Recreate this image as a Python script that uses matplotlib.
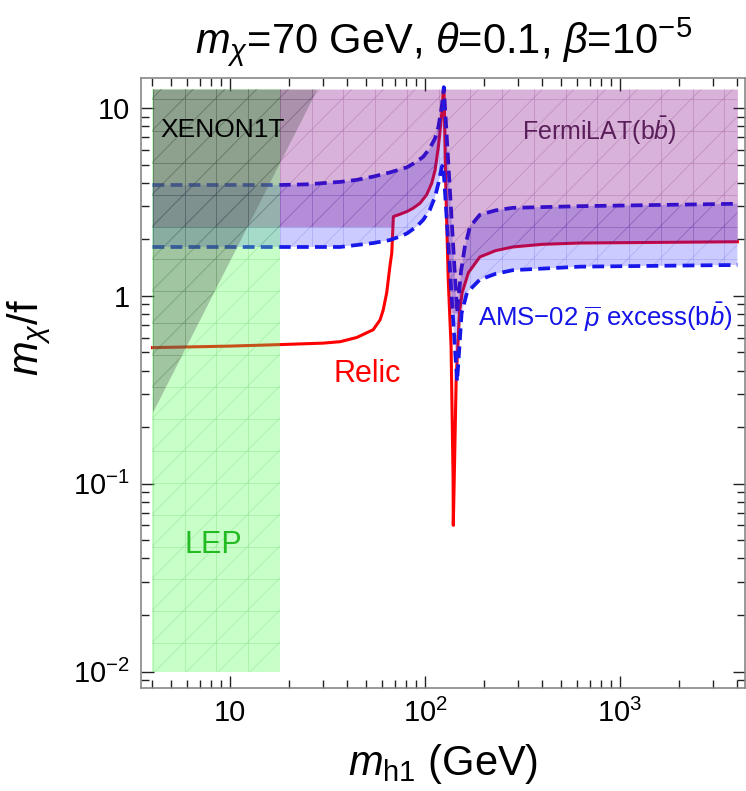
import numpy as np
import matplotlib

matplotlib.use("Agg")
import matplotlib.pyplot as plt
from matplotlib.collections import LineCollection
from matplotlib.ticker import LogLocator, FixedLocator, NullFormatter

plt.rcParams["font.family"] = ["Liberation Sans", "DejaVu Sans"]
plt.rcParams["mathtext.fontset"] = "custom"
plt.rcParams["mathtext.rm"] = "Liberation Sans"
plt.rcParams["mathtext.it"] = "Liberation Sans:italic"
plt.rcParams["mathtext.bf"] = "Liberation Sans:bold"
plt.rcParams["lines.scale_dashes"] = False

# relic density curve
relic_x = [4, 10, 18, 30, 36.7, 44.6, 54.2, 58.8, 61, 63.6, 66, 67.5, 68.8, 74.5,
           80.8, 87, 94.2, 101.9, 108.2, 112.6, 117.1, 119.5, 121.9, 124,
           125, 127.5, 131.5, 136, 139.3, 139.6, 141.5, 144.4, 150, 155, 167,
           191, 230, 282, 400, 623, 4000]
relic_y = [0.53, 0.54, 0.55, 0.56, 0.57, 0.60, 0.66, 0.745, 0.84, 1.04, 1.43,
           1.69, 2.64, 2.72, 2.81, 2.93, 3.11, 3.45, 3.97, 4.67, 6.23, 7.6, 9.38,
           12.0, 12.6, 4.14, 1.22, 0.535, 0.105, 0.06, 0.12, 0.357, 0.81, 1.04,
           1.33, 1.61, 1.74, 1.82, 1.88, 1.91, 1.94]

# AMS-02 antiproton excess band (upper / lower edge)
ams_up_x = [4, 18, 24.7, 36.7, 44.6, 54.2, 65.8, 80.8, 90.6, 97.9, 105.8, 112.6,
            117.1, 121.9, 124.8, 138, 146, 153, 160, 170, 191, 230, 282, 623,
            4000]
ams_up_y = [3.89, 3.89, 3.92, 4.04, 4.14, 4.31, 4.53, 4.83, 5.18, 5.5, 6.1, 6.9,
            7.93, 10.2, 12.9, 2.2, 0.81, 1.35, 1.82, 2.33, 2.7, 2.85, 2.94, 3.0,
            3.09]
ams_lo_x = [4, 36.7, 54.2, 65.8, 74.5, 80.8, 90.6, 97.9, 105.8, 112.6, 117.1,
            121.9, 124, 146, 154, 164, 191, 230, 282, 623, 4000]
ams_lo_y = [1.82, 1.82, 1.91, 1.98, 2.07, 2.15, 2.34, 2.54, 2.87, 3.38, 3.97,
            4.87, 5.0, 0.35, 0.81, 1.04, 1.22, 1.31, 1.37, 1.43, 1.46]

# FermiLAT exclusion: lower boundary, excluded up to the plot top
fermi_x = [4, 68.8, 68.8, 74.5, 80.8, 87, 94.2, 101.9, 108.2, 112.6, 117.1,
           119.5, 121.9, 124, 125, 127.5, 131.5, 133, 150, 155, 167, 191, 230,
           282, 400, 623, 4000]
fermi_y = [2.33, 2.33, 2.64, 2.72, 2.81, 2.93, 3.11, 3.45, 3.97, 4.67, 6.23, 7.6,
           9.38, 12.0, 12.6, 4.14, 1.22, 0.81, 0.81, 1.04, 1.33, 1.61, 1.74,
           1.82, 1.88, 1.91, 1.94]

# XENON1T exclusion boundary (excluded above/left)
xenon_x = [4, 27.9]
xenon_y = [0.24, 12.6]

# LEP exclusion
lep_x = [4, 18]
lep_y = [0.01, 12.6]

y_top = 12.6


def mesh(ax, region, color):
    """faint triangle mesh seen inside the shaded regions"""
    if hasattr(region, "get_paths"):
        path, tr = region.get_paths()[0], region.get_transform()
    else:
        path, tr = region.get_path(), region.get_transform()
    s = 0.0525
    segs = [[(u, 0), (u, 1)] for u in np.arange(0.02, 1, s)]
    segs += [[(0, v), (1, v)] for v in np.arange(0.02, 1, s)]
    segs += [[(u, 0), (u + 1, 1)] for u in np.arange(-1, 1, s)]
    lc = LineCollection(segs, colors=color, linewidths=0.6, alpha=0.18,
                        transform=ax.transAxes, zorder=4)
    lc.set_clip_path(path, tr)
    ax.add_collection(lc)


fig = plt.figure(figsize=(7.46, 7.91), dpi=100)
ax = fig.add_axes([0.1886, 0.1308, 0.8107, 0.7706])

ax.plot(relic_x, relic_y, color="#ff0000", lw=2.2, zorder=2)
for xs, ys in [(ams_up_x, ams_up_y), (ams_lo_x, ams_lo_y)]:
    ax.plot(xs, ys, color="#1414e8", lw=2.7, dashes=(8.5, 4.5), zorder=2)

# shaded regions drawn over the curves, as in the original
ams = ax.fill(np.r_[ams_up_x, ams_lo_x[::-1]], np.r_[ams_up_y, ams_lo_y[::-1]],
              color="#3333ff", alpha=0.25, lw=0, zorder=3)[0]
fermi = ax.fill_between(fermi_x, fermi_y, y_top, color="#800080", alpha=0.3,
                        lw=0, zorder=3)
lep = ax.fill_between(lep_x, lep_y[0], lep_y[1], color="#55ff55", alpha=0.32,
                      lw=0, zorder=3)
xenon = ax.fill_between(xenon_x, xenon_y, y_top, color="#505050", alpha=0.33,
                        lw=0, zorder=3)
mesh(ax, ams, "#3333cc")
mesh(ax, fermi, "#600060")
mesh(ax, lep, "#22aa22")
mesh(ax, xenon, "#303030")

ax.text(4.38, 7.6, "XENON1T", fontsize=19, color="black", va="center", zorder=5)
ax.text(314, 7.6, r"FermiLAT(b$\bar{b}$)", fontsize=18, color="#5a1f5a",
        va="center", zorder=5)
ax.text(34.0, 0.385, "Relic", fontsize=22, color="#ff0000", va="center", zorder=5)
ax.text(187, 0.764, "AMS\u221202 $\\overline{p}$ excess(b$\\bar{b}$)",
        fontsize=18.5, color="#1414e8", va="center", zorder=5)
ax.text(5.87, 0.047, "LEP", fontsize=22, color="#22bb22", va="center", zorder=5)

ax.set_xscale("log")
ax.set_yscale("log")
ax.set_xlim(3.48, 4400)
ax.set_ylim(0.00822, 14.44)

ax.xaxis.set_major_locator(FixedLocator([10, 100, 1000]))
ax.set_xticklabels(["10", "10$^2$", "10$^3$"])
ax.xaxis.set_minor_locator(LogLocator(base=10, subs=np.arange(2, 10)))
ax.xaxis.set_minor_formatter(NullFormatter())
ax.yaxis.set_major_locator(FixedLocator([0.01, 0.1, 1, 10]))
ax.set_yticklabels(["10$^{-2}$", "10$^{-1}$", "1", "10"])
ax.yaxis.set_minor_locator(LogLocator(base=10, subs=np.arange(2, 10)))
ax.yaxis.set_minor_formatter(NullFormatter())

ax.tick_params(which="both", direction="in", top=True, right=True,
               labelsize=21, color="#222222", width=1.0, pad=8)
ax.tick_params(which="major", length=9)
ax.tick_params(which="minor", length=6)
for s in ax.spines.values():
    s.set_color("#888888")
    s.set_linewidth(1.2)

ax.set_xlabel(r"$m_{\rm h1}$ (GeV)", fontsize=30, labelpad=10)
ax.set_ylabel(r"$m_\chi$/f", fontsize=30)
ax.yaxis.set_label_coords(-0.145, 0.575)
ax.set_title(r"$m_\chi$=70 GeV, $\theta$=0.1, $\beta$=10$^{-5}$", fontsize=30,
             pad=18)

fig.savefig("out.png", dpi=100)
